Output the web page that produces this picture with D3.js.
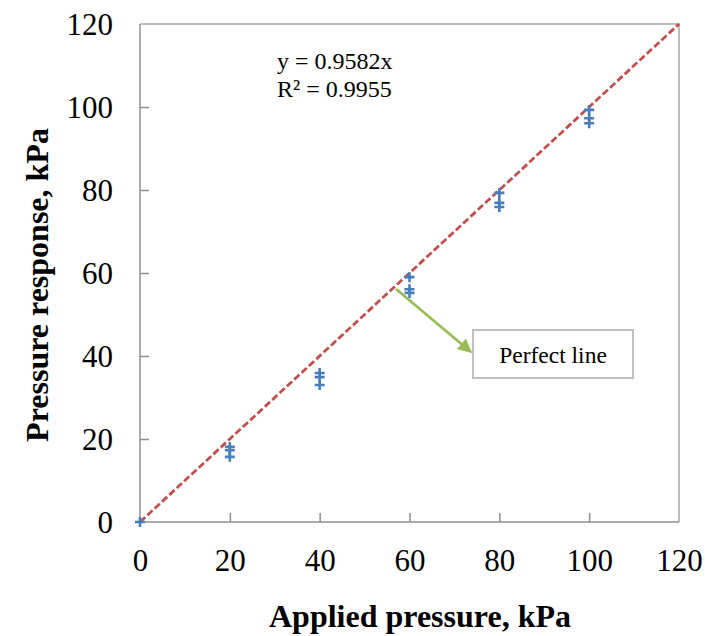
<!DOCTYPE html>
<html>
<head>
<meta charset="utf-8">
<script src="https://cdn.jsdelivr.net/npm/d3@7"></script>
<style>
  html, body { margin: 0; padding: 0; background: #fff; }
  svg { display: block; }
  text { font-family: "Times New Roman", "Liberation Serif", serif; fill: #000; }
</style>
</head>
<body>
<div id="chart"></div>
<script>
// ---- data ----------------------------------------------------------------
const appliedKPa = [0, 20, 20, 20, 40, 40, 40, 60, 60, 60, 80, 80, 80, 100, 100, 100];
const responseKPa = [0, 18.1, 17.3, 15.7, 35.9, 34.9, 33.0, 59.0, 56.1, 55.2, 79.3, 76.9, 75.9, 99.3, 97.3, 96.1];
const perfectLine = [0, 120];
const tickValues = [0, 20, 40, 60, 80, 100, 120];
const fitLabels = ["y = 0.9582x", "R\u00b2 = 0.9955"];
const calloutText = "Perfect line";

(function () {
  const W = 705, H = 636;
  const M = { left: 140, top: 24, right: 26, bottom: 114 };
  const iw = W - M.left - M.right, ih = H - M.top - M.bottom;

  const COL = { axis: "#8f8f8f", box: "#a6a6a6", pts: "#4a7ebb", fit: "#c0504d", arrow: "#9bbb59", callout: "#bfbfbf" };

  const x = d3.scaleLinear().domain([0, 120]).range([0, iw]);
  const y = d3.scaleLinear().domain([0, 120]).range([ih, 0]);

  const svg = d3.select("#chart").append("svg").attr("width", W).attr("height", H);
  const defs = svg.append("defs");
  defs.append("marker")
    .attr("id", "green-head").attr("viewBox", "0 0 10 10")
    .attr("refX", 9).attr("refY", 5)
    .attr("markerWidth", 5).attr("markerHeight", 5)
    .attr("markerUnits", "strokeWidth").attr("orient", "auto")
    .append("path").attr("d", "M0,0 L10,5 L0,10 z").attr("fill", COL.arrow);

  const g = svg.append("g").attr("transform", `translate(${M.left},${M.top})`);

  // plot box (top + right)
  g.append("path")
    .attr("d", `M0,0 H${iw} V${ih}`)
    .attr("fill", "none").attr("stroke", COL.box).attr("stroke-width", 1.5);

  // axes: inward ticks, no domain path (drawn below)
  const xAxis = g.append("g").attr("transform", `translate(0,${ih})`)
    .call(d3.axisBottom(x).tickValues(tickValues).tickSizeInner(-9).tickSizeOuter(0).tickPadding(0).tickFormat(d3.format("d")));
  const yAxis = g.append("g")
    .call(d3.axisLeft(y).tickValues(tickValues).tickSizeInner(-9).tickSizeOuter(0).tickPadding(0).tickFormat(d3.format("d")));
  [xAxis, yAxis].forEach((a) => {
    a.select(".domain").remove();
    a.selectAll("line").attr("stroke", COL.axis).attr("stroke-width", 1.5);
    a.selectAll("text").attr("font-family", null).attr("fill", "#000").style("font-size", "31px");
  });
  xAxis.selectAll(".tick line").filter((d) => d === 0 || d === 120).remove();
  yAxis.selectAll(".tick line").filter((d) => d === 0 || d === 120).remove();
  xAxis.selectAll("text").attr("dy", null).attr("y", 49);
  yAxis.selectAll("text").attr("dy", "0.34em").attr("x", -27);

  g.append("line").attr("x1", 0).attr("x2", iw).attr("y1", ih).attr("y2", ih)
    .attr("stroke", COL.axis).attr("stroke-width", 1.5);
  g.append("line").attr("x1", 0).attr("x2", 0).attr("y1", 0).attr("y2", ih)
    .attr("stroke", COL.axis).attr("stroke-width", 1.5);

  // perfect line (dashed)
  g.append("line")
    .attr("x1", x(perfectLine[0])).attr("y1", y(perfectLine[0]))
    .attr("x2", x(perfectLine[1])).attr("y2", y(perfectLine[1]))
    .attr("stroke", COL.fit).attr("stroke-width", 2.8).attr("stroke-dasharray", "7,3");

  // measured points as "+" markers
  const S = 5;
  g.append("g").selectAll("path")
    .data(appliedKPa.map((v, i) => [v, responseKPa[i]]))
    .join("path")
    .attr("transform", (d) => `translate(${x(d[0])},${y(d[1])})`)
    .attr("d", `M${-S},0H${S}M0,${-S}V${S}`)
    .attr("stroke", COL.pts).attr("stroke-width", 2.6).attr("fill", "none");

  // trendline equation
  g.append("g").selectAll("text").data(fitLabels).join("text")
    .attr("x", 137).attr("y", (d, i) => 45 + i * 28)
    .style("font-size", "24px").text((d) => d);

  // callout arrow + box
  g.append("line")
    .attr("x1", 256).attr("y1", 265).attr("x2", 331).attr("y2", 328)
    .attr("stroke", COL.arrow).attr("stroke-width", 2.8).attr("marker-end", "url(#green-head)");
  g.append("rect")
    .attr("x", 333).attr("y", 306).attr("width", 160).attr("height", 48)
    .attr("fill", "#fff").attr("stroke", COL.callout).attr("stroke-width", 2);
  g.append("text")
    .attr("x", 413).attr("y", 339).attr("text-anchor", "middle")
    .style("font-size", "23.5px").text(calloutText);

  // axis titles
  svg.append("text")
    .attr("x", 420).attr("y", 627).attr("text-anchor", "middle")
    .style("font-size", "32px").style("font-weight", "bold").text("Applied pressure, kPa");
  svg.append("text")
    .attr("transform", `translate(48,285) rotate(-90)`)
    .attr("text-anchor", "middle")
    .style("font-size", "32px").style("font-weight", "bold").text("Pressure response, kPa");
})();
</script>
</body>
</html>
